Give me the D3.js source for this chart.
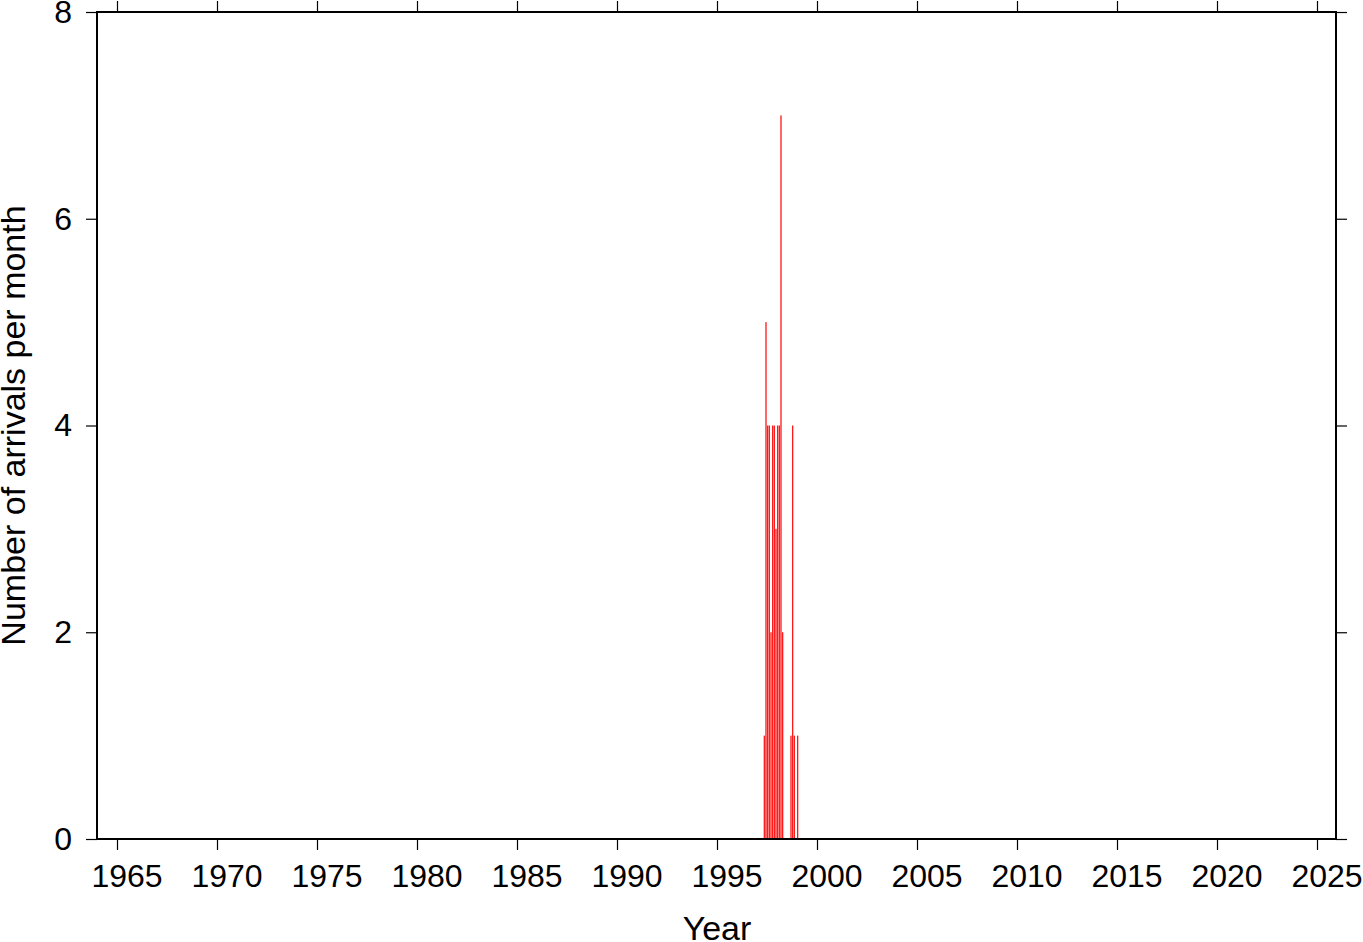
<!DOCTYPE html>
<html>
<head>
<meta charset="utf-8">
<script src="https://cdn.jsdelivr.net/npm/d3@7"></script>
<style>
  html, body { margin: 0; padding: 0; background: #fff; }
  svg { display: block; }
  text { font-family: "Liberation Sans", Arial, Helvetica, sans-serif; }
</style>
</head>
<body>
<svg id="chart" width="1363" height="942"></svg>
<script>
// Data: monthly arrival counts (month as "YYYY-MM")
const months = ["1997-05","1997-06","1997-07","1997-08","1997-09","1997-10","1997-11","1997-12",
                "1998-01","1998-02","1998-03","1998-04","1998-09","1998-10","1998-11","1999-01"];
const counts = [1, 5, 4, 4, 2, 4, 4, 3,
                4, 4, 7, 2, 1, 4, 1, 1];
const xTicks = [1965,1970,1975,1980,1985,1990,1995,2000,2005,2010,2015,2020,2025];
const yTicks = [0,2,4,6,8];
const xDomain = [1964, 2026];
const yDomain = [0, 8];
const xTitle = "Year";
const yTitle = "Number of arrivals per month";

const svg = d3.select("#chart");
const L = 97, R = 1337, T = 12, B = 839;
const x = d3.scaleLinear().domain(xDomain).range([L, R]);
const y = d3.scaleLinear().domain(yDomain).range([B, T]);

const data = months.map((m, i) => {
  const [yr, mo] = m.split("-").map(Number);
  return { t0: yr + (mo - 1) / 12, t1: yr + mo / 12, v: counts[i] };
});

// bars
svg.append("g").selectAll("rect").data(data).join("rect")
  .attr("x", d => x(d.t0))
  .attr("width", d => Math.max(0.5, x(d.t1) - x(d.t0) - 0.35))
  .attr("y", d => y(d.v))
  .attr("height", d => y(0) - y(d.v))
  .attr("fill", "#ff1a1a");

const tickLen = 11;
function styleAxis(g) {
  g.select(".domain").remove();
  g.selectAll(".tick line").attr("stroke", "#000").attr("stroke-width", 1.2);
  g.selectAll(".tick text").attr("font-size", 32).attr("fill", "#000")
    .attr("font-family", "'Liberation Sans', Arial, sans-serif");
}

// bottom axis
svg.append("g").attr("transform", `translate(0,${B})`)
  .call(d3.axisBottom(x).tickValues(xTicks).tickFormat(d3.format("d")).tickSize(tickLen).tickPadding(14))
  .call(styleAxis)
  .call(g => g.selectAll(".tick text").attr("dx", 9.5));
// top axis (ticks only)
svg.append("g").attr("transform", `translate(0,${T})`)
  .call(d3.axisTop(x).tickValues(xTicks).tickFormat("").tickSize(tickLen))
  .call(styleAxis);
// left axis
svg.append("g").attr("transform", `translate(${L},0)`)
  .call(d3.axisLeft(y).tickValues(yTicks).tickFormat(d3.format("d")).tickSize(tickLen).tickPadding(14))
  .call(styleAxis);
// right axis (ticks only)
svg.append("g").attr("transform", `translate(${R - 1},0)`)
  .call(d3.axisRight(y).tickValues(yTicks).tickFormat("").tickSize(tickLen))
  .call(styleAxis);

// frame
svg.append("rect")
  .attr("x", L).attr("y", T)
  .attr("width", R - 1 - L).attr("height", B - T)
  .attr("fill", "none").attr("stroke", "#000").attr("stroke-width", 2);

// titles
svg.append("text")
  .attr("x", (L + R) / 2).attr("y", 940)
  .attr("text-anchor", "middle").attr("font-size", 34).attr("fill", "#000")
  .text(xTitle);
svg.append("text")
  .attr("transform", `translate(25,${(T + B) / 2}) rotate(-90)`)
  .attr("text-anchor", "middle").attr("font-size", 34).attr("fill", "#000")
  .text(yTitle);
</script>
</body>
</html>
